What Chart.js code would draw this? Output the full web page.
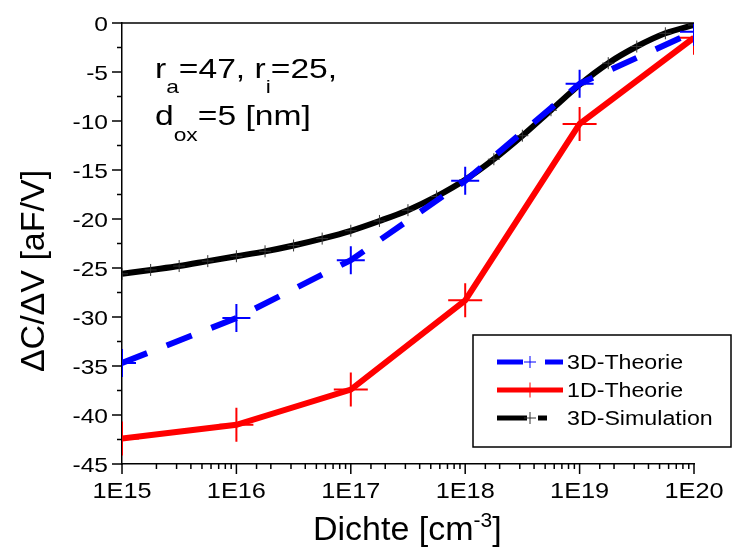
<!DOCTYPE html>
<html>
<head>
<meta charset="utf-8">
<script src="https://cdn.jsdelivr.net/npm/chart.js@4.4.1/dist/chart.umd.min.js"></script>
<style>
  html, body { margin: 0; padding: 0; background: #fff; }
  canvas { display: block; }
</style>
</head>
<body>
<canvas id="chart" width="732" height="547"></canvas>
<script>
// Werte
var dichte = [1e15, 1e16, 1e17, 1e18, 1e19, 1e20];
var theorie3D = [-34.7, -30.1, -24.2, -16.1, -6.2, -0.9];
var theorie1D = [-42.4, -41.0, -37.4, -28.3, -10.3, -1.5];

var simDichte = [
  1e15, 1.78e15, 3.16e15, 5.62e15,
  1e16, 1.78e16, 3.16e16, 5.62e16,
  1e17, 1.78e17, 3.16e17, 5.62e17,
  1e18, 1.78e18, 3.16e18, 5.62e18,
  1e19, 1.78e19, 3.16e19, 5.62e19,
  1e20
];
var simulation3D = [
  -25.6, -25.2, -24.8, -24.3,
  -23.8, -23.3, -22.7, -22.0,
  -21.2, -20.2, -19.1, -17.7,
  -16.0, -13.9, -11.5, -8.9,
  -6.3, -4.1, -2.4, -1.05,
  -0.2
];

var seriesNames = ["3D-Theorie", "1D-Theorie", "3D-Simulation"];
var yTicks = [0, -5, -10, -15, -20, -25, -30, -35, -40, -45];
var xTickLabels = ["1E15", "1E16", "1E17", "1E18", "1E19", "1E20"];

var FONT = "'Liberation Sans', Arial, sans-serif";

function toPoints(xs, ys) {
  return xs.map(function(x, i) { return { x: x, y: ys[i] }; });
}

function isDecade(v) {
  var e = Math.log10(v);
  return Math.abs(e - Math.round(e)) < 1e-6;
}

// Text leicht in die Breite gezogen, wie im Original
function drawText(ctx, text, x, y, size, sx, align) {
  ctx.save();
  ctx.translate(x, y);
  ctx.scale(sx, 1);
  ctx.font = size + "px " + FONT;
  ctx.textAlign = align || "left";
  ctx.fillText(text, 0, 0);
  ctx.restore();
}

// Text mit Hoch-/Tiefstellung zeichnen
function drawRich(ctx, x, y, parts, sx) {
  parts.forEach(function(p) {
    drawText(ctx, p.t, x, y + (p.dy || 0), p.size, sx);
    ctx.font = p.size + "px " + FONT;
    x += ctx.measureText(p.t).width * sx;
  });
}

// Achsenstriche, Beschriftungen, obere Linie und Legende
var decorPlugin = {
  id: "decor",
  afterDraw: function(chart) {
    var ctx = chart.ctx;
    var area = chart.chartArea;
    var xs = chart.scales.x;
    var ys = chart.scales.y;

    ctx.save();
    ctx.strokeStyle = "#000";
    ctx.fillStyle = "#000";
    ctx.lineWidth = 1.5;
    ctx.textBaseline = "alphabetic";

    // obere Linie
    ctx.beginPath();
    ctx.moveTo(area.left, area.top);
    ctx.lineTo(area.right, area.top);
    ctx.stroke();

    // y-Striche und Zahlen
    ys.ticks.forEach(function(t) {
      var py = ys.getPixelForValue(t.value);
      var major = yTicks.indexOf(t.value) >= 0;
      var len = major ? 10 : 5;
      ctx.beginPath();
      ctx.moveTo(area.left - len, py);
      ctx.lineTo(area.left, py);
      ctx.stroke();
      if (major) drawText(ctx, String(t.value), 108, py + 7.5, 21, 1.17, "right");
    });

    // x-Striche und Zahlen
    xs.ticks.forEach(function(t) {
      if (t.value < 1e15 || t.value > 1e20 * 1.0001) return;
      var px = xs.getPixelForValue(t.value);
      var major = isDecade(t.value);
      var len = major ? 10 : 5;
      ctx.beginPath();
      ctx.moveTo(px, area.bottom);
      ctx.lineTo(px, area.bottom + len);
      ctx.stroke();
      if (major) {
        var k = dichte.findIndex(function(d) { return Math.abs(d / t.value - 1) < 1e-6; });
        if (k >= 0) drawText(ctx, xTickLabels[k], px, 498, 22, 1.15, "center");
      }
    });

    // Anmerkung im Diagramm
    drawRich(ctx, 155, 78, [
      { t: "r", size: 28 }, { t: "a", size: 19, dy: 15 },
      { t: "=47, r", size: 28 }, { t: "i", size: 19, dy: 15 },
      { t: "=25,", size: 28 }
    ], 1.2);
    drawRich(ctx, 155, 125, [
      { t: "d", size: 28 }, { t: "ox", size: 19, dy: 16 },
      { t: "=5 [nm]", size: 28 }
    ], 1.2);

    // x-Titel
    drawRich(ctx, 313, 540, [
      { t: "Dichte [cm", size: 34 }, { t: "-3", size: 21, dy: -13 },
      { t: "]", size: 34 }
    ], 1.0);

    // y-Titel
    ctx.save();
    ctx.translate(35, 271);
    ctx.rotate(-Math.PI / 2);
    ctx.textAlign = "center";
    ctx.textBaseline = "middle";
    ctx.font = "34px " + FONT;
    ctx.fillText("\u0394C/\u0394V [aF/V]", 0, 0);
    ctx.restore();

    // Legende
    ctx.lineWidth = 1.5;
    ctx.strokeRect(473, 335, 258, 112);

    var rows = [362, 390, 418];
    var samples = [
      [[497, 523], [545, 563]],
      [[497, 563]],
      [[497, 527], [538, 547]]
    ];
    var crossR = [6, 7.5, 6];
    chart.data.datasets.forEach(function(ds, i) {
      var y = rows[i];
      ctx.strokeStyle = ds.borderColor;
      ctx.lineWidth = 5;
      ctx.lineCap = "butt";
      samples[i].forEach(function(s) {
        ctx.beginPath();
        ctx.moveTo(s[0], y);
        ctx.lineTo(s[1], y);
        ctx.stroke();
      });
      ctx.lineWidth = 1;
      ctx.strokeStyle = ds.pointBorderColor;
      ctx.beginPath();
      ctx.moveTo(530 - crossR[i], y);
      ctx.lineTo(530 + crossR[i], y);
      ctx.moveTo(530, y - crossR[i]);
      ctx.lineTo(530, y + crossR[i]);
      ctx.stroke();

      ctx.fillStyle = "#000";
      drawText(ctx, seriesNames[i], 567, y + 7, 20, 1.16, "left");
    });

    ctx.restore();
  }
};

var chart = new Chart(document.getElementById("chart").getContext("2d"), {
  type: "line",
  data: {
    datasets: [
      {
        label: seriesNames[0],
        data: toPoints(dichte, theorie3D),
        borderColor: "#0000ff",
        borderWidth: 6,
        borderDash: [27, 21],
        borderCapStyle: "butt",
        pointStyle: "cross",
        pointRadius: 14,
        pointBorderWidth: 2,
        pointBorderColor: "#0000ff",
        tension: 0,
        clip: 0
      },
      {
        label: seriesNames[1],
        data: toPoints(dichte, theorie1D),
        borderColor: "#ff0000",
        borderWidth: 6,
        pointStyle: "cross",
        pointRadius: 17,
        pointBorderWidth: 2,
        pointBorderColor: "#ff0000",
        tension: 0,
        clip: 0
      },
      {
        label: seriesNames[2],
        data: toPoints(simDichte, simulation3D),
        borderColor: "#000000",
        borderWidth: 6,
        cubicInterpolationMode: "monotone",
        pointStyle: "cross",
        pointRadius: 6,
        pointBorderWidth: 1,
        pointBorderColor: "#333333",
        clip: 0
      }
    ]
  },
  options: {
    responsive: false,
    animation: false,
    devicePixelRatio: 1,
    layout: { padding: { left: 0, top: 23, right: 38, bottom: 0 } },
    plugins: {
      legend: { display: false },
      tooltip: { enabled: false }
    },
    scales: {
      x: {
        type: "logarithmic",
        min: 1e15,
        max: 1e20,
        afterFit: function(s) { s.height = 83; },
        grid: { display: false, drawTicks: false },
        border: { display: true, color: "#000", width: 1.5 },
        ticks: { display: false, autoSkip: false }
      },
      y: {
        type: "linear",
        min: -45,
        max: 0,
        afterFit: function(s) { s.width = 122; },
        grid: { display: false, drawTicks: false },
        border: { display: true, color: "#000", width: 1.5 },
        ticks: { display: false, stepSize: 2.5 }
      }
    }
  },
  plugins: [decorPlugin]
});
</script>
</body>
</html>
